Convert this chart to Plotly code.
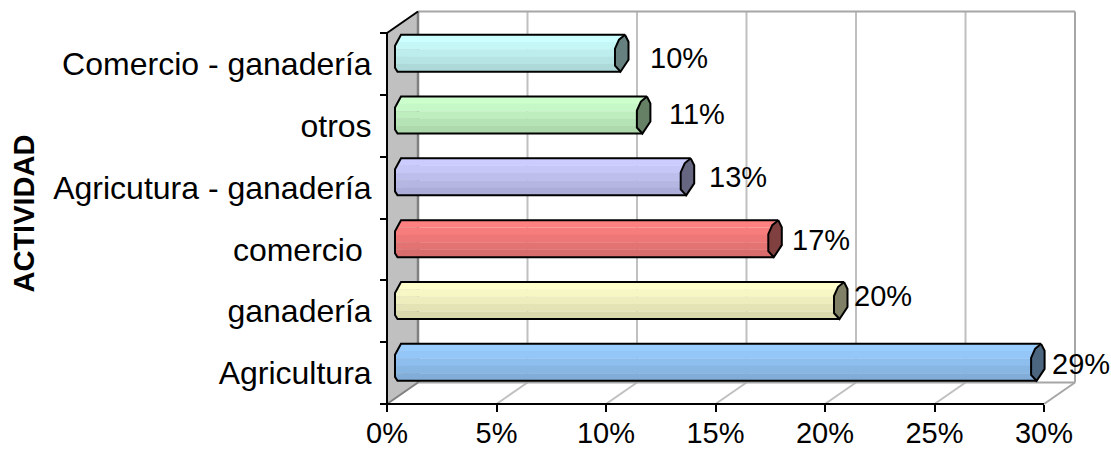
import plotly.graph_objects as go

categories = ["Agricultura", "ganadería", "comercio\u00a0", "Agricutura - ganadería", "otros", "Comercio - ganadería"]
values = [29, 20, 17, 13, 11, 10]
labels = ["29%", "20%", "17%", "13%", "11%", "10%"]
colors = [(0x99, 0xCC, 0xFF), (0xFF, 0xFF, 0xCC), (0xFF, 0x80, 0x80), (0xCC, 0xCC, 0xFF), (0xCC, 0xFF, 0xCC), (0xCC, 0xFF, 0xFF)]
x_ticks = [0, 5, 10, 15, 20, 25, 30]
x_tick_text = ["0%", "5%", "10%", "15%", "20%", "25%", "30%"]

# layout constants (pixels)
W, H = 1111, 449
PLOT_H = 449
X0, BOTTOM = 387, 404
PX_PER_PCT = 21.9
PX_PER_CAT = 61.83
DEPTH_X, DEPTH_Y = 31, 21.5
FONT = "Liberation Sans, Arial, sans-serif"
TXT = 29
CAT_TXT = 32
label_dx = [13.4, 12.5, 16, 21, 24.6, 27.5]
label_dy = [2, -5, 1, 0, -1, 5]
BAND_SHADES = [1.0, 0.97, 0.93, 0.89, 0.85]
BAR_W = 37 / PX_PER_CAT

dx = DEPTH_X / PX_PER_PCT
dy = DEPTH_Y / PX_PER_CAT
front_y0 = BOTTOM - PX_PER_CAT / 2
bar_x0 = X0 + DEPTH_X / 2
bar_y0 = front_y0 - DEPTH_Y / 2


def shade(c, f):
    return "rgb(%d,%d,%d)" % tuple(round(v * f) for v in c)


def px(v):
    return v / PX_PER_PCT


def py(v):
    return v / PX_PER_CAT


fig = go.Figure()
y_lo, y_hi = -0.5, 5.5


def line(xs, ys, color, width):
    fig.add_trace(go.Scatter(x=xs, y=ys, mode="lines", line=dict(color=color, width=width),
                             hoverinfo="skip", showlegend=False))


# side wall
fig.add_trace(go.Scatter(x=[0, dx, dx, 0, 0], y=[y_hi, y_hi + dy, y_lo + dy, y_lo, y_hi], mode="lines", fill="toself",
                         fillcolor="#C0C0C0", line=dict(width=0), hoverinfo="skip", showlegend=False))
# back gridlines and floor lines
for t in x_ticks[1:]:
    line([t + dx, t + dx], [y_lo + dy, y_hi + dy], "#C0C0C0" if t < 30 else "#A6A6A6", 2)
for t in x_ticks[1:]:
    line([t, t + dx], [y_lo, y_lo + dy], "#C0C0C0" if t < 30 else "#A6A6A6", 2)
line([dx, 30 + dx], [y_lo + dy, y_lo + dy], "#A6A6A6", 2)
line([dx, 30 + dx], [y_hi + dy, y_hi + dy], "#A6A6A6", 2)
line([dx, dx], [y_lo + dy, y_hi + dy], "#808080", 2.5)
line([0, dx], [y_lo, y_lo + dy], "#808080", 2)
line([0, dx], [y_hi, y_hi + dy], "black", 2)
# front axis lines
line([0, 0, 30], [y_hi, y_lo, y_lo], "black", 2)

# bars: banded fill
n = len(BAND_SHADES)
bh = BAR_W / n
for k, f in enumerate(BAND_SHADES):
    fig.add_trace(go.Bar(x=values, y=list(range(len(values))), orientation="h", xaxis="x2", yaxis="y2",
                         width=bh + 0.003, offset=BAR_W / 2 - (k + 1) * bh,
                         marker=dict(color=[shade(c, f) for c in colors], line=dict(width=0)),
                         hoverinfo="skip", showlegend=False))

# left ends and outlines, caps
for i, (v, c) in enumerate(zip(values, colors)):
    t = i + BAR_W / 2
    b = i - BAR_W / 2
    # left end pieces by band
    for k, f in enumerate(BAND_SHADES):
        top_px = k * 37 / n
        bot_px = (k + 1) * 37 / n

        def left(p):
            if p < 11:
                return -1.5 - 6 * p / 11
            if p < 33:
                return -7.5
            return -7.5 + 2.5 * (p - 33) / 4

        ps = [top_px] + [q for q in (11, 33) if top_px < q < bot_px] + [bot_px]
        xs = [px(left(p)) for p in ps] + [px(0.5), px(0.5)]
        ys = [t - py(p) for p in ps] + [t - py(bot_px), t - py(top_px)]
        fig.add_trace(go.Scatter(x=xs + xs[:1], y=ys + ys[:1], xaxis="x2", yaxis="y2", mode="lines", fill="toself",
                                 fillcolor=shade(c, f), line=dict(width=0), hoverinfo="skip", showlegend=False))
    # outline
    ox = [v + px(3.5), px(-1.5), px(-7.5), px(-7.5), px(-5), v + px(-1)]
    oy = [t, t, t - py(11), t - py(33), b, b]
    fig.add_trace(go.Scatter(x=ox, y=oy, xaxis="x2", yaxis="y2", mode="lines", line=dict(color="black", width=2),
                             hoverinfo="skip", showlegend=False))
    # cap
    cx = [3.5, 7, 7, -1, -6.5, -6.5, -2.5, 3.5]
    cy = [0, 7, 25, 37, 31, 14, 5, 0]
    fig.add_trace(go.Scatter(x=[v + px(q) for q in cx], y=[t - py(q) for q in cy], xaxis="x2", yaxis="y2", mode="lines",
                             fill="toself", fillcolor=shade(c, 0.5), line=dict(color="black", width=2),
                             hoverinfo="skip", showlegend=False))

annotations = [
    dict(x=v, y=i, xref="x2", yref="y2", text=l, showarrow=False, xanchor="left", yanchor="middle",
         xshift=label_dx[i] - 1, yshift=-label_dy[i], font=dict(family=FONT, size=TXT, color="black"))
    for i, (v, l) in enumerate(zip(values, labels))
]
annotations.append(dict(x=23.5 / W, y=1 - 214 / PLOT_H, xref="paper", yref="paper", text="<b>ACTIVIDAD</b>", textangle=-90,
                        xanchor="center", yanchor="middle",
                        showarrow=False, font=dict(family=FONT, size=29, color="black")))

fig.update_layout(
    width=W, height=H, autosize=False, margin=dict(l=0, r=0, t=0, b=0), paper_bgcolor="white", plot_bgcolor="white",
    barmode="overlay", showlegend=False, annotations=annotations,
    xaxis=dict(domain=[0, 1], range=[-X0 / PX_PER_PCT, (W - X0) / PX_PER_PCT], anchor="free", automargin=False,
               position=(PLOT_H - BOTTOM) / PLOT_H, tickmode="array", tickvals=x_ticks, ticktext=x_tick_text,
               ticks="outside", ticklen=7, tickwidth=2, tickcolor="black", showgrid=False, zeroline=False,
               ticklabelstandoff=-4,
               showline=False, tickfont=dict(family=FONT, size=TXT, color="black")),
    yaxis=dict(domain=[0, 1], range=[(front_y0 - PLOT_H) / PX_PER_CAT, front_y0 / PX_PER_CAT], anchor="free", automargin=False,
               position=X0 / W, tickmode="array", tickvals=list(range(len(categories))), ticktext=categories,
               ticks="outside", ticklen=9, tickwidth=0, tickcolor="rgba(0,0,0,0)", showgrid=False, zeroline=False,
               showline=False, tickfont=dict(family=FONT, size=CAT_TXT, color="black"),
               minor=dict(tickmode="array", tickvals=[i - 0.5 for i in range(len(categories) + 1)], ticks="outside",
                          ticklen=7, tickwidth=2, tickcolor="black", showgrid=False)),
    xaxis2=dict(domain=[0, 1], range=[-bar_x0 / PX_PER_PCT, (W - bar_x0) / PX_PER_PCT], overlaying="x", anchor="y2",
                visible=False),
    yaxis2=dict(domain=[0, 1], range=[(bar_y0 - PLOT_H) / PX_PER_CAT, bar_y0 / PX_PER_CAT], overlaying="y", anchor="x2",
                visible=False),
)
fig.write_html("out.html", config=dict(displayModeBar=False), post_script="document.body.style.margin='0';")
